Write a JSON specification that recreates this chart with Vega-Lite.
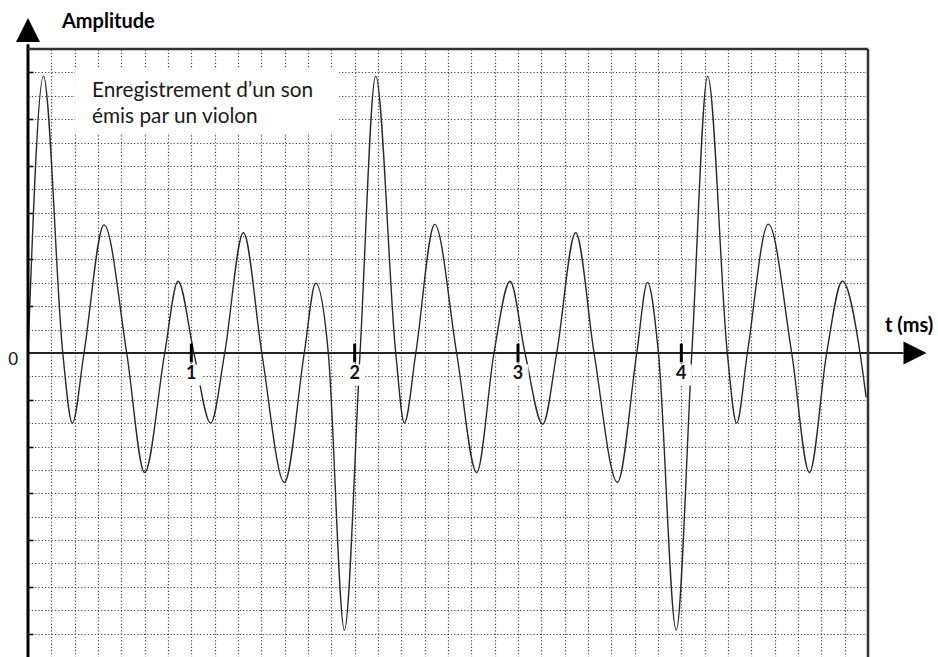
{
  "$schema": "https://vega.github.io/schema/vega-lite/v6.json",
  "width": 840,
  "height": 608,
  "autosize": {"type": "none"},
  "padding": {"left": 28, "top": 49, "right": 70, "bottom": 0},
  "background": "white",
  "config": {
    "view": {"stroke": null},
    "font": "Lato"
  },
  "datasets": {
    "wave": [
      {"t": 0.0, "a": 0},
      {"t": 0.0943, "a": 11.84},
      {"t": 0.2129, "a": 0},
      {"t": 0.2714, "a": -3.0},
      {"t": 0.3429, "a": 0},
      {"t": 0.4657, "a": 5.48},
      {"t": 0.6043, "a": 0},
      {"t": 0.7143, "a": -5.11},
      {"t": 0.8371, "a": 0},
      {"t": 0.9186, "a": 3.07},
      {"t": 1.0157, "a": 0},
      {"t": 1.1186, "a": -3.0},
      {"t": 1.2043, "a": 0},
      {"t": 1.3186, "a": 5.14},
      {"t": 1.4314, "a": 0},
      {"t": 1.57, "a": -5.53},
      {"t": 1.6914, "a": 0},
      {"t": 1.7614, "a": 2.98},
      {"t": 1.8386, "a": 0},
      {"t": 1.9371, "a": -11.85},
      {"t": 2.0329, "a": 0},
      {"t": 2.1286, "a": 11.84},
      {"t": 2.2514, "a": 0},
      {"t": 2.3043, "a": -3.0},
      {"t": 2.3743, "a": 0},
      {"t": 2.49, "a": 5.5},
      {"t": 2.6243, "a": 0},
      {"t": 2.7471, "a": -5.11},
      {"t": 2.8529, "a": 0},
      {"t": 2.9514, "a": 3.07},
      {"t": 3.0429, "a": 0},
      {"t": 3.1514, "a": -3.05},
      {"t": 3.2371, "a": 0},
      {"t": 3.3529, "a": 5.14},
      {"t": 3.4657, "a": 0},
      {"t": 3.6086, "a": -5.53},
      {"t": 3.7271, "a": 0},
      {"t": 3.7929, "a": 3.02},
      {"t": 3.86, "a": 0},
      {"t": 3.9686, "a": -11.85},
      {"t": 4.0643, "a": 0},
      {"t": 4.1614, "a": 11.84},
      {"t": 4.2814, "a": 0},
      {"t": 4.3386, "a": -3.0},
      {"t": 4.4043, "a": 0},
      {"t": 4.5329, "a": 5.51},
      {"t": 4.6757, "a": 0},
      {"t": 4.7843, "a": -5.11},
      {"t": 4.89, "a": 0},
      {"t": 4.9857, "a": 3.07},
      {"t": 5.0943, "a": 0},
      {"t": 5.1314, "a": -1.9}
    ],
    "ticks": [
      {"t": 1, "label": "1"},
      {"t": 2, "label": "2"},
      {"t": 3, "label": "3"},
      {"t": 4, "label": "4"}
    ]
  },
  "data": {"values": [{}]},
  "layer": [
    {
      "data": {"name": "wave"},
      "mark": {"type": "line", "interpolate": "monotone", "color": "#2a2a2a", "strokeWidth": 1.4},
      "encoding": {
        "x": {
          "field": "t", "type": "quantitative",
          "scale": {"domain": [0, 5.142857], "nice": false, "zero": false},
          "axis": {
            "orient": "bottom", "domain": false, "ticks": false, "labels": false, "title": null,
            "tickCount": 60,
            "grid": true, "gridColor": "#444444", "gridOpacity": 1, "gridDash": [1.2, 2.1], "gridWidth": 1.2,
            "values": [0.142857,0.285714,0.428571,0.571429,0.714286,0.857143,1,1.142857,1.285714,1.428571,1.571429,1.714286,1.857143,2,2.142857,2.285714,2.428571,2.571429,2.714286,2.857143,3,3.142857,3.285714,3.428571,3.571429,3.714286,3.857143,4,4.142857,4.285714,4.428571,4.571429,4.714286,4.857143,5]
          }
        },
        "y": {
          "field": "a", "type": "quantitative",
          "scale": {"domain": [-13, 13], "nice": false, "zero": false},
          "axis": {
            "orient": "left", "domain": false, "labels": false, "title": null,
            "tickCount": 60,
            "ticks": true, "tickSize": -5, "tickWidth": 1.5, "tickColor": "#000000",
            "tickOpacity": {"condition": {"test": "datum.value % 2 === 0", "value": 1}, "value": 0},
            "grid": true, "gridColor": "#444444", "gridOpacity": 1, "gridDash": [1.2, 2.1], "gridWidth": 1.2,
            "values": [-12,-11,-10,-9,-8,-7,-6,-5,-4,-3,-2,-1,1,2,3,4,5,6,7,8,9,10,11,12]
          }
        }
      }
    },
    {
      "mark": {"type": "rect", "color": "white", "opacity": 1},
      "encoding": {
        "x": {"datum": 0.288, "type": "quantitative"},
        "x2": {"datum": 1.904},
        "y": {"datum": 12.19, "type": "quantitative"},
        "y2": {"datum": 9.41}
      }
    },
    {
      "data": {"name": "ticks"},
      "mark": {"type": "point", "shape": "square", "filled": true, "color": "white", "opacity": 1, "size": 441, "yOffset": 22},
      "encoding": {
        "x": {"field": "t", "type": "quantitative"},
        "y": {"datum": 0, "type": "quantitative"}
      }
    },
    {
      "mark": {"type": "rule", "color": "#222222", "strokeWidth": 2},
      "encoding": {
        "x": {"datum": 0, "type": "quantitative"},
        "x2": {"datum": 5.36},
        "y": {"datum": 0, "type": "quantitative"}
      }
    },
    {
      "mark": {"type": "rule", "color": "#000000", "strokeWidth": 3},
      "encoding": {
        "x": {"datum": 0, "type": "quantitative"},
        "y": {"datum": -13, "type": "quantitative"},
        "y2": {"datum": 13.2}
      }
    },
    {
      "mark": {"type": "rule", "color": "#333333", "strokeWidth": 2.5},
      "encoding": {
        "x": {"datum": 0, "type": "quantitative"},
        "x2": {"datum": 5.142857},
        "y": {"datum": 13, "type": "quantitative"}
      }
    },
    {
      "mark": {"type": "rule", "color": "#333333", "strokeWidth": 2.5},
      "encoding": {
        "x": {"datum": 5.142857, "type": "quantitative"},
        "y": {"datum": -13, "type": "quantitative"},
        "y2": {"datum": 13}
      }
    },
    {
      "data": {"name": "ticks"},
      "mark": {"type": "rule", "color": "#000000", "strokeWidth": 3},
      "encoding": {
        "x": {"field": "t", "type": "quantitative"},
        "y": {"datum": -0.4, "type": "quantitative"},
        "y2": {"datum": 0.4}
      }
    },
    {
      "data": {"name": "ticks"},
      "mark": {"type": "text", "font": "Lato", "fontWeight": "bold", "fontSize": 18, "color": "#111111", "align": "center", "baseline": "alphabetic", "dy": 26},
      "encoding": {
        "x": {"field": "t", "type": "quantitative"},
        "y": {"datum": 0, "type": "quantitative"},
        "text": {"field": "label"}
      }
    },
    {
      "mark": {"type": "text", "font": "Lato", "fontSize": 17, "color": "#111111", "align": "right", "baseline": "middle", "dx": -10, "dy": 7},
      "encoding": {
        "x": {"datum": 0, "type": "quantitative"},
        "y": {"datum": 0, "type": "quantitative"},
        "text": {"value": "0"}
      }
    },
    {
      "mark": {"type": "point", "shape": "M-1,1L0,-1L1,1Z", "filled": true, "color": "#000000", "opacity": 1, "size": 576},
      "encoding": {
        "x": {"datum": 0, "type": "quantitative"},
        "y": {"datum": 13.81, "type": "quantitative"}
      }
    },
    {
      "mark": {"type": "point", "shape": "M-1,-1L1,0L-1,1Z", "filled": true, "color": "#000000", "opacity": 1, "size": 529},
      "encoding": {
        "x": {"datum": 5.4306, "type": "quantitative"},
        "y": {"datum": 0, "type": "quantitative"}
      }
    },
    {
      "mark": {"type": "text", "font": "Lato", "fontWeight": "bold", "fontSize": 20, "color": "#000000", "align": "left", "baseline": "alphabetic"},
      "encoding": {
        "x": {"datum": 0.208, "type": "quantitative"},
        "y": {"datum": 13.885, "type": "quantitative"},
        "text": {"value": "Amplitude"}
      }
    },
    {
      "mark": {"type": "text", "font": "Lato", "fontWeight": "bold", "fontSize": 20, "color": "#000000", "align": "left", "baseline": "alphabetic"},
      "encoding": {
        "x": {"datum": 5.247, "type": "quantitative"},
        "y": {"datum": 0.911, "type": "quantitative"},
        "text": {"value": "t (ms)"}
      }
    },
    {
      "mark": {"type": "text", "font": "Lato", "fontSize": 20.8, "color": "#1a1a1a", "align": "left", "baseline": "alphabetic", "lineHeight": 26},
      "encoding": {
        "x": {"datum": 0.392, "type": "quantitative"},
        "y": {"datum": 10.96, "type": "quantitative"},
        "text": {"value": ["Enregistrement d’un son", " émis par un violon"]}
      }
    }
  ]
}
